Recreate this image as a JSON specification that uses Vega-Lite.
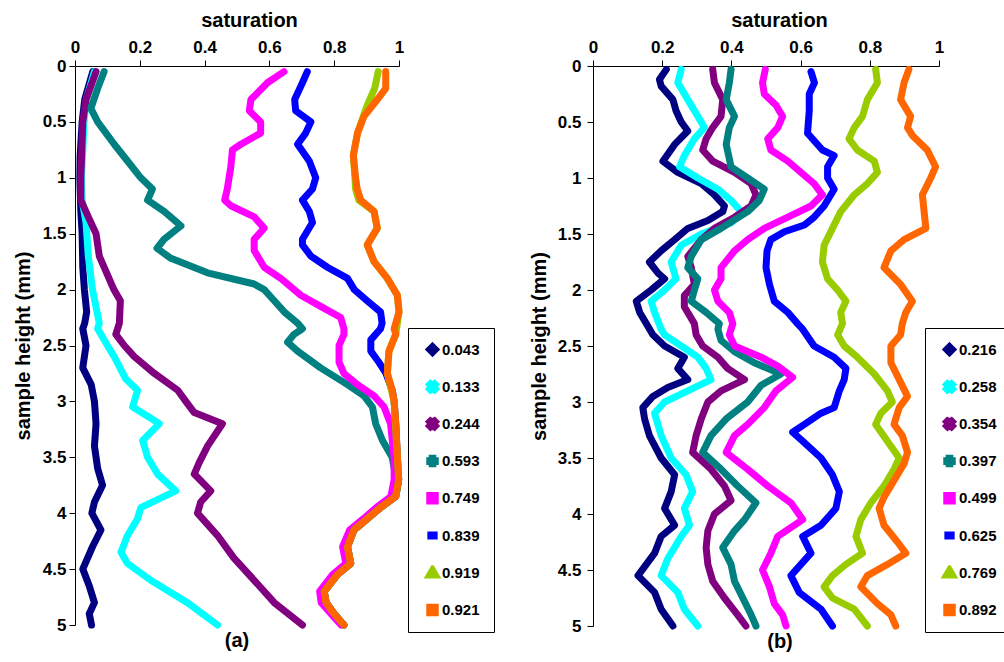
{
"$schema": "https://vega.github.io/schema/vega-lite/v6.json",
"padding": {"left": 13, "top": 10, "right": 5, "bottom": 5},
"config": {
 "font": "Liberation Sans",
 "view": {"stroke": null},
 "axis": {"labelFont": "Liberation Sans", "labelFontWeight": "bold", "labelFontSize": 17, "labelColor": "black", "titleFont": "Liberation Sans", "titleFontWeight": "bold", "titleFontSize": 20, "titleColor": "black", "domainColor": "black", "tickColor": "black", "tickSize": 6, "grid": false, "labelFlush": false, "labelOverlap": false},
 "legend": {"orient": "none", "title": null, "strokeColor": "black", "fillColor": "white", "padding": 14, "rowPadding": 21.2, "labelFont": "Liberation Sans", "labelFontSize": 15, "labelFontWeight": "bold", "labelColor": "black", "symbolSize": 30, "labelOffset": 2, "symbolOffset": 3, "symbolStrokeWidth": 0, "symbolStrokeColor": "transparent"},
 "title": {"font": "Liberation Sans", "fontSize": 20, "fontWeight": "bold", "color": "black"}
},
"datasets": {
"a": [
{"s":"0.043","h":0.05,"sat":0.055},{"s":"0.043","h":0.3,"sat":0.03},{"s":"0.043","h":0.5,"sat":0.022},{"s":"0.043","h":0.8,"sat":0.016},{"s":"0.043","h":1.0,"sat":0.015},{"s":"0.043","h":1.3,"sat":0.018},{"s":"0.043","h":1.5,"sat":0.022},{"s":"0.043","h":1.8,"sat":0.024},{"s":"0.043","h":2.0,"sat":0.029},{"s":"0.043","h":2.2,"sat":0.036},{"s":"0.043","h":2.3,"sat":0.03},{"s":"0.043","h":2.35,"sat":0.024},{"s":"0.043","h":2.5,"sat":0.034},{"s":"0.043","h":2.7,"sat":0.024},{"s":"0.043","h":2.85,"sat":0.05},{"s":"0.043","h":3.0,"sat":0.06},{"s":"0.043","h":3.2,"sat":0.065},{"s":"0.043","h":3.4,"sat":0.06},{"s":"0.043","h":3.6,"sat":0.07},{"s":"0.043","h":3.75,"sat":0.085},{"s":"0.043","h":3.9,"sat":0.06},{"s":"0.043","h":4.0,"sat":0.052},{"s":"0.043","h":4.15,"sat":0.08},{"s":"0.043","h":4.3,"sat":0.054},{"s":"0.043","h":4.5,"sat":0.024},{"s":"0.043","h":4.65,"sat":0.044},{"s":"0.043","h":4.8,"sat":0.06},{"s":"0.043","h":4.9,"sat":0.044},{"s":"0.043","h":5.0,"sat":0.051},
{"s":"0.133","h":0.05,"sat":0.06},{"s":"0.133","h":0.3,"sat":0.035},{"s":"0.133","h":0.5,"sat":0.028},{"s":"0.133","h":1.0,"sat":0.02},{"s":"0.133","h":1.2,"sat":0.022},{"s":"0.133","h":1.4,"sat":0.034},{"s":"0.133","h":1.7,"sat":0.041},{"s":"0.133","h":2.0,"sat":0.054},{"s":"0.133","h":2.3,"sat":0.075},{"s":"0.133","h":2.35,"sat":0.07},{"s":"0.133","h":2.5,"sat":0.1},{"s":"0.133","h":2.6,"sat":0.121},{"s":"0.133","h":2.8,"sat":0.157},{"s":"0.133","h":2.9,"sat":0.193},{"s":"0.133","h":3.05,"sat":0.178},{"s":"0.133","h":3.15,"sat":0.234},{"s":"0.133","h":3.2,"sat":0.26},{"s":"0.133","h":3.35,"sat":0.209},{"s":"0.133","h":3.5,"sat":0.224},{"s":"0.133","h":3.65,"sat":0.255},{"s":"0.133","h":3.8,"sat":0.311},{"s":"0.133","h":3.95,"sat":0.203},{"s":"0.133","h":4.05,"sat":0.193},{"s":"0.133","h":4.2,"sat":0.162},{"s":"0.133","h":4.35,"sat":0.142},{"s":"0.133","h":4.45,"sat":0.162},{"s":"0.133","h":4.6,"sat":0.234},{"s":"0.133","h":4.8,"sat":0.347},{"s":"0.133","h":5.0,"sat":0.44},
{"s":"0.244","h":0.05,"sat":0.065},{"s":"0.244","h":0.3,"sat":0.034},{"s":"0.244","h":0.5,"sat":0.024},{"s":"0.244","h":1.0,"sat":0.018},{"s":"0.244","h":1.2,"sat":0.018},{"s":"0.244","h":1.35,"sat":0.041},{"s":"0.244","h":1.5,"sat":0.065},{"s":"0.244","h":1.7,"sat":0.075},{"s":"0.244","h":2.0,"sat":0.12},{"s":"0.244","h":2.1,"sat":0.14},{"s":"0.244","h":2.3,"sat":0.137},{"s":"0.244","h":2.4,"sat":0.126},{"s":"0.244","h":2.5,"sat":0.152},{"s":"0.244","h":2.6,"sat":0.183},{"s":"0.244","h":2.75,"sat":0.245},{"s":"0.244","h":2.9,"sat":0.317},{"s":"0.244","h":3.0,"sat":0.342},{"s":"0.244","h":3.1,"sat":0.368},{"s":"0.244","h":3.2,"sat":0.455},{"s":"0.244","h":3.4,"sat":0.409},{"s":"0.244","h":3.55,"sat":0.383},{"s":"0.244","h":3.65,"sat":0.368},{"s":"0.244","h":3.8,"sat":0.419},{"s":"0.244","h":3.9,"sat":0.388},{"s":"0.244","h":4.0,"sat":0.378},{"s":"0.244","h":4.2,"sat":0.44},{"s":"0.244","h":4.4,"sat":0.49},{"s":"0.244","h":4.6,"sat":0.553},{"s":"0.244","h":4.8,"sat":0.615},{"s":"0.244","h":5.0,"sat":0.702},
{"s":"0.593","h":0.05,"sat":0.09},{"s":"0.593","h":0.2,"sat":0.07},{"s":"0.593","h":0.38,"sat":0.049},{"s":"0.593","h":0.5,"sat":0.07},{"s":"0.593","h":0.7,"sat":0.121},{"s":"0.593","h":0.85,"sat":0.162},{"s":"0.593","h":1.0,"sat":0.203},{"s":"0.593","h":1.1,"sat":0.239},{"s":"0.593","h":1.2,"sat":0.224},{"s":"0.593","h":1.3,"sat":0.275},{"s":"0.593","h":1.43,"sat":0.327},{"s":"0.593","h":1.55,"sat":0.275},{"s":"0.593","h":1.63,"sat":0.253},{"s":"0.593","h":1.72,"sat":0.296},{"s":"0.593","h":1.85,"sat":0.409},{"s":"0.593","h":1.95,"sat":0.553},{"s":"0.593","h":2.0,"sat":0.584},{"s":"0.593","h":2.1,"sat":0.615},{"s":"0.593","h":2.2,"sat":0.646},{"s":"0.593","h":2.3,"sat":0.687},{"s":"0.593","h":2.35,"sat":0.702},{"s":"0.593","h":2.4,"sat":0.676},{"s":"0.593","h":2.47,"sat":0.656},{"s":"0.593","h":2.55,"sat":0.687},{"s":"0.593","h":2.7,"sat":0.758},{"s":"0.593","h":2.85,"sat":0.841},{"s":"0.593","h":2.95,"sat":0.892},{"s":"0.593","h":3.05,"sat":0.918},{"s":"0.593","h":3.2,"sat":0.928},{"s":"0.593","h":3.35,"sat":0.949},{"s":"0.593","h":3.5,"sat":0.979},{"s":"0.593","h":3.6,"sat":0.985},{"s":"0.593","h":3.7,"sat":0.999},{"s":"0.593","h":3.85,"sat":0.99},{"s":"0.593","h":3.95,"sat":0.943},{"s":"0.593","h":4.05,"sat":0.902},{"s":"0.593","h":4.15,"sat":0.861},{"s":"0.593","h":4.3,"sat":0.841},{"s":"0.593","h":4.45,"sat":0.851},{"s":"0.593","h":4.55,"sat":0.81},{"s":"0.593","h":4.7,"sat":0.769},{"s":"0.593","h":4.8,"sat":0.775},{"s":"0.593","h":4.9,"sat":0.8},{"s":"0.593","h":5.0,"sat":0.83},
{"s":"0.749","h":0.05,"sat":0.645},{"s":"0.749","h":0.15,"sat":0.594},{"s":"0.749","h":0.3,"sat":0.543},{"s":"0.749","h":0.4,"sat":0.538},{"s":"0.749","h":0.5,"sat":0.573},{"s":"0.749","h":0.6,"sat":0.573},{"s":"0.749","h":0.7,"sat":0.512},{"s":"0.749","h":0.75,"sat":0.486},{"s":"0.749","h":0.9,"sat":0.481},{"s":"0.749","h":1.1,"sat":0.47},{"s":"0.749","h":1.2,"sat":0.462},{"s":"0.749","h":1.25,"sat":0.481},{"s":"0.749","h":1.35,"sat":0.553},{"s":"0.749","h":1.45,"sat":0.584},{"s":"0.749","h":1.55,"sat":0.553},{"s":"0.749","h":1.65,"sat":0.553},{"s":"0.749","h":1.8,"sat":0.584},{"s":"0.749","h":1.9,"sat":0.635},{"s":"0.749","h":2.05,"sat":0.697},{"s":"0.749","h":2.15,"sat":0.758},{"s":"0.749","h":2.25,"sat":0.82},{"s":"0.749","h":2.35,"sat":0.83},{"s":"0.749","h":2.4,"sat":0.83},{"s":"0.749","h":2.5,"sat":0.815},{"s":"0.749","h":2.65,"sat":0.815},{"s":"0.749","h":2.75,"sat":0.83},{"s":"0.749","h":2.85,"sat":0.872},{"s":"0.749","h":2.95,"sat":0.923},{"s":"0.749","h":3.05,"sat":0.954},{"s":"0.749","h":3.2,"sat":0.974},{"s":"0.749","h":3.5,"sat":0.985},{"s":"0.749","h":3.7,"sat":0.985},{"s":"0.749","h":3.85,"sat":0.975},{"s":"0.749","h":3.95,"sat":0.93},{"s":"0.749","h":4.05,"sat":0.89},{"s":"0.749","h":4.15,"sat":0.848},{"s":"0.749","h":4.3,"sat":0.826},{"s":"0.749","h":4.45,"sat":0.836},{"s":"0.749","h":4.55,"sat":0.795},{"s":"0.749","h":4.7,"sat":0.755},{"s":"0.749","h":4.8,"sat":0.76},{"s":"0.749","h":4.9,"sat":0.79},{"s":"0.749","h":5.0,"sat":0.822},
{"s":"0.839","h":0.05,"sat":0.717},{"s":"0.839","h":0.15,"sat":0.702},{"s":"0.839","h":0.3,"sat":0.678},{"s":"0.839","h":0.4,"sat":0.681},{"s":"0.839","h":0.5,"sat":0.728},{"s":"0.839","h":0.6,"sat":0.712},{"s":"0.839","h":0.7,"sat":0.687},{"s":"0.839","h":0.85,"sat":0.723},{"s":"0.839","h":1.0,"sat":0.743},{"s":"0.839","h":1.1,"sat":0.733},{"s":"0.839","h":1.2,"sat":0.702},{"s":"0.839","h":1.3,"sat":0.723},{"s":"0.839","h":1.4,"sat":0.733},{"s":"0.839","h":1.55,"sat":0.702},{"s":"0.839","h":1.6,"sat":0.702},{"s":"0.839","h":1.7,"sat":0.728},{"s":"0.839","h":1.8,"sat":0.779},{"s":"0.839","h":1.9,"sat":0.841},{"s":"0.839","h":2.0,"sat":0.862},{"s":"0.839","h":2.1,"sat":0.902},{"s":"0.839","h":2.2,"sat":0.943},{"s":"0.839","h":2.3,"sat":0.948},{"s":"0.839","h":2.35,"sat":0.943},{"s":"0.839","h":2.45,"sat":0.913},{"s":"0.839","h":2.55,"sat":0.913},{"s":"0.839","h":2.65,"sat":0.938},{"s":"0.839","h":2.75,"sat":0.96},{"s":"0.839","h":2.9,"sat":0.979},{"s":"0.839","h":3.0,"sat":0.985},{"s":"0.839","h":3.2,"sat":0.99},{"s":"0.839","h":3.5,"sat":0.995},{"s":"0.839","h":3.7,"sat":0.999},{"s":"0.839","h":3.85,"sat":0.99},{"s":"0.839","h":3.95,"sat":0.943},{"s":"0.839","h":4.05,"sat":0.902},{"s":"0.839","h":4.15,"sat":0.861},{"s":"0.839","h":4.3,"sat":0.841},{"s":"0.839","h":4.45,"sat":0.851},{"s":"0.839","h":4.55,"sat":0.81},{"s":"0.839","h":4.7,"sat":0.769},{"s":"0.839","h":4.8,"sat":0.775},{"s":"0.839","h":4.9,"sat":0.8},{"s":"0.839","h":5.0,"sat":0.83},
{"s":"0.919","h":0.05,"sat":0.936},{"s":"0.919","h":0.2,"sat":0.925},{"s":"0.919","h":0.35,"sat":0.902},{"s":"0.919","h":0.45,"sat":0.89},{"s":"0.919","h":0.6,"sat":0.872},{"s":"0.919","h":0.8,"sat":0.859},{"s":"0.919","h":1.0,"sat":0.864},{"s":"0.919","h":1.1,"sat":0.866},{"s":"0.919","h":1.2,"sat":0.876},{"s":"0.919","h":1.3,"sat":0.923},{"s":"0.919","h":1.45,"sat":0.933},{"s":"0.919","h":1.6,"sat":0.902},{"s":"0.919","h":1.75,"sat":0.923},{"s":"0.919","h":1.9,"sat":0.964},{"s":"0.919","h":2.05,"sat":0.995},{"s":"0.919","h":2.2,"sat":1.0},{"s":"0.919","h":2.4,"sat":0.99},{"s":"0.919","h":2.55,"sat":0.969},{"s":"0.919","h":2.75,"sat":0.964},{"s":"0.919","h":3.0,"sat":0.985},{"s":"0.919","h":3.5,"sat":0.995},{"s":"0.919","h":3.7,"sat":0.999},{"s":"0.919","h":3.85,"sat":0.99},{"s":"0.919","h":3.95,"sat":0.943},{"s":"0.919","h":4.05,"sat":0.902},{"s":"0.919","h":4.15,"sat":0.861},{"s":"0.919","h":4.3,"sat":0.841},{"s":"0.919","h":4.45,"sat":0.851},{"s":"0.919","h":4.55,"sat":0.81},{"s":"0.919","h":4.7,"sat":0.769},{"s":"0.919","h":4.8,"sat":0.775},{"s":"0.919","h":4.9,"sat":0.8},{"s":"0.919","h":5.0,"sat":0.83},
{"s":"0.921","h":0.05,"sat":0.959},{"s":"0.921","h":0.2,"sat":0.959},{"s":"0.921","h":0.3,"sat":0.933},{"s":"0.921","h":0.45,"sat":0.892},{"s":"0.921","h":0.6,"sat":0.872},{"s":"0.921","h":0.8,"sat":0.859},{"s":"0.921","h":1.0,"sat":0.866},{"s":"0.921","h":1.1,"sat":0.871},{"s":"0.921","h":1.2,"sat":0.882},{"s":"0.921","h":1.3,"sat":0.923},{"s":"0.921","h":1.45,"sat":0.933},{"s":"0.921","h":1.6,"sat":0.902},{"s":"0.921","h":1.75,"sat":0.923},{"s":"0.921","h":1.9,"sat":0.964},{"s":"0.921","h":2.05,"sat":0.995},{"s":"0.921","h":2.2,"sat":1.0},{"s":"0.921","h":2.35,"sat":0.985},{"s":"0.921","h":2.4,"sat":0.99},{"s":"0.921","h":2.55,"sat":0.969},{"s":"0.921","h":2.75,"sat":0.964},{"s":"0.921","h":2.9,"sat":0.979},{"s":"0.921","h":3.0,"sat":0.985},{"s":"0.921","h":3.2,"sat":0.99},{"s":"0.921","h":3.5,"sat":0.995},{"s":"0.921","h":3.7,"sat":0.999},{"s":"0.921","h":3.85,"sat":0.99},{"s":"0.921","h":3.95,"sat":0.943},{"s":"0.921","h":4.05,"sat":0.902},{"s":"0.921","h":4.15,"sat":0.861},{"s":"0.921","h":4.3,"sat":0.841},{"s":"0.921","h":4.45,"sat":0.851},{"s":"0.921","h":4.55,"sat":0.81},{"s":"0.921","h":4.7,"sat":0.769},{"s":"0.921","h":4.8,"sat":0.775},{"s":"0.921","h":4.9,"sat":0.8},{"s":"0.921","h":5.0,"sat":0.83}
],
"b": [
{"s":"0.216","h":0.03,"sat":0.212},{"s":"0.216","h":0.12,"sat":0.192},{"s":"0.216","h":0.18,"sat":0.197},{"s":"0.216","h":0.3,"sat":0.231},{"s":"0.216","h":0.4,"sat":0.24},{"s":"0.216","h":0.5,"sat":0.255},{"s":"0.216","h":0.58,"sat":0.274},{"s":"0.216","h":0.7,"sat":0.236},{"s":"0.216","h":0.85,"sat":0.202},{"s":"0.216","h":0.95,"sat":0.245},{"s":"0.216","h":1.05,"sat":0.313},{"s":"0.216","h":1.15,"sat":0.351},{"s":"0.216","h":1.25,"sat":0.38},{"s":"0.216","h":1.3,"sat":0.375},{"s":"0.216","h":1.38,"sat":0.332},{"s":"0.216","h":1.45,"sat":0.274},{"s":"0.216","h":1.55,"sat":0.236},{"s":"0.216","h":1.65,"sat":0.197},{"s":"0.216","h":1.75,"sat":0.163},{"s":"0.216","h":1.85,"sat":0.188},{"s":"0.216","h":1.9,"sat":0.207},{"s":"0.216","h":2.0,"sat":0.168},{"s":"0.216","h":2.1,"sat":0.125},{"s":"0.216","h":2.2,"sat":0.135},{"s":"0.216","h":2.3,"sat":0.154},{"s":"0.216","h":2.4,"sat":0.173},{"s":"0.216","h":2.5,"sat":0.207},{"s":"0.216","h":2.6,"sat":0.264},{"s":"0.216","h":2.7,"sat":0.245},{"s":"0.216","h":2.8,"sat":0.274},{"s":"0.216","h":2.87,"sat":0.216},{"s":"0.216","h":2.95,"sat":0.173},{"s":"0.216","h":3.05,"sat":0.144},{"s":"0.216","h":3.15,"sat":0.149},{"s":"0.216","h":3.3,"sat":0.163},{"s":"0.216","h":3.5,"sat":0.197},{"s":"0.216","h":3.65,"sat":0.236},{"s":"0.216","h":3.8,"sat":0.226},{"s":"0.216","h":3.95,"sat":0.207},{"s":"0.216","h":4.1,"sat":0.236},{"s":"0.216","h":4.2,"sat":0.197},{"s":"0.216","h":4.35,"sat":0.178},{"s":"0.216","h":4.45,"sat":0.154},{"s":"0.216","h":4.55,"sat":0.13},{"s":"0.216","h":4.7,"sat":0.178},{"s":"0.216","h":4.85,"sat":0.197},{"s":"0.216","h":5.0,"sat":0.231},
{"s":"0.258","h":0.03,"sat":0.255},{"s":"0.258","h":0.15,"sat":0.245},{"s":"0.258","h":0.3,"sat":0.274},{"s":"0.258","h":0.45,"sat":0.303},{"s":"0.258","h":0.55,"sat":0.322},{"s":"0.258","h":0.65,"sat":0.293},{"s":"0.258","h":0.8,"sat":0.264},{"s":"0.258","h":0.9,"sat":0.25},{"s":"0.258","h":1.0,"sat":0.303},{"s":"0.258","h":1.1,"sat":0.361},{"s":"0.258","h":1.2,"sat":0.399},{"s":"0.258","h":1.3,"sat":0.428},{"s":"0.258","h":1.4,"sat":0.399},{"s":"0.258","h":1.5,"sat":0.313},{"s":"0.258","h":1.6,"sat":0.255},{"s":"0.258","h":1.75,"sat":0.226},{"s":"0.258","h":1.9,"sat":0.24},{"s":"0.258","h":2.0,"sat":0.207},{"s":"0.258","h":2.1,"sat":0.168},{"s":"0.258","h":2.2,"sat":0.178},{"s":"0.258","h":2.35,"sat":0.197},{"s":"0.258","h":2.4,"sat":0.207},{"s":"0.258","h":2.5,"sat":0.255},{"s":"0.258","h":2.6,"sat":0.303},{"s":"0.258","h":2.7,"sat":0.327},{"s":"0.258","h":2.8,"sat":0.341},{"s":"0.258","h":2.9,"sat":0.274},{"s":"0.258","h":3.0,"sat":0.207},{"s":"0.258","h":3.1,"sat":0.178},{"s":"0.258","h":3.3,"sat":0.197},{"s":"0.258","h":3.5,"sat":0.226},{"s":"0.258","h":3.65,"sat":0.269},{"s":"0.258","h":3.8,"sat":0.288},{"s":"0.258","h":3.95,"sat":0.264},{"s":"0.258","h":4.1,"sat":0.279},{"s":"0.258","h":4.2,"sat":0.255},{"s":"0.258","h":4.4,"sat":0.216},{"s":"0.258","h":4.55,"sat":0.197},{"s":"0.258","h":4.7,"sat":0.245},{"s":"0.258","h":4.85,"sat":0.264},{"s":"0.258","h":5.0,"sat":0.303},
{"s":"0.354","h":0.03,"sat":0.346},{"s":"0.354","h":0.15,"sat":0.351},{"s":"0.354","h":0.3,"sat":0.375},{"s":"0.354","h":0.45,"sat":0.37},{"s":"0.354","h":0.55,"sat":0.346},{"s":"0.354","h":0.65,"sat":0.327},{"s":"0.354","h":0.75,"sat":0.317},{"s":"0.354","h":0.85,"sat":0.346},{"s":"0.354","h":0.95,"sat":0.409},{"s":"0.354","h":1.05,"sat":0.457},{"s":"0.354","h":1.15,"sat":0.471},{"s":"0.354","h":1.25,"sat":0.457},{"s":"0.354","h":1.35,"sat":0.409},{"s":"0.354","h":1.45,"sat":0.351},{"s":"0.354","h":1.55,"sat":0.313},{"s":"0.354","h":1.7,"sat":0.274},{"s":"0.354","h":1.8,"sat":0.284},{"s":"0.354","h":1.95,"sat":0.293},{"s":"0.354","h":2.05,"sat":0.264},{"s":"0.354","h":2.15,"sat":0.264},{"s":"0.354","h":2.3,"sat":0.293},{"s":"0.354","h":2.4,"sat":0.298},{"s":"0.354","h":2.5,"sat":0.317},{"s":"0.354","h":2.6,"sat":0.361},{"s":"0.354","h":2.7,"sat":0.389},{"s":"0.354","h":2.8,"sat":0.438},{"s":"0.354","h":2.9,"sat":0.37},{"s":"0.354","h":3.0,"sat":0.332},{"s":"0.354","h":3.15,"sat":0.313},{"s":"0.354","h":3.3,"sat":0.298},{"s":"0.354","h":3.45,"sat":0.288},{"s":"0.354","h":3.6,"sat":0.341},{"s":"0.354","h":3.75,"sat":0.38},{"s":"0.354","h":3.88,"sat":0.399},{"s":"0.354","h":4.0,"sat":0.351},{"s":"0.354","h":4.15,"sat":0.332},{"s":"0.354","h":4.3,"sat":0.327},{"s":"0.354","h":4.45,"sat":0.332},{"s":"0.354","h":4.6,"sat":0.346},{"s":"0.354","h":4.75,"sat":0.38},{"s":"0.354","h":4.9,"sat":0.418},{"s":"0.354","h":5.0,"sat":0.442},
{"s":"0.397","h":0.03,"sat":0.399},{"s":"0.397","h":0.15,"sat":0.394},{"s":"0.397","h":0.3,"sat":0.385},{"s":"0.397","h":0.45,"sat":0.409},{"s":"0.397","h":0.55,"sat":0.394},{"s":"0.397","h":0.7,"sat":0.385},{"s":"0.397","h":0.9,"sat":0.399},{"s":"0.397","h":1.0,"sat":0.447},{"s":"0.397","h":1.1,"sat":0.495},{"s":"0.397","h":1.2,"sat":0.481},{"s":"0.397","h":1.3,"sat":0.447},{"s":"0.397","h":1.45,"sat":0.37},{"s":"0.397","h":1.55,"sat":0.313},{"s":"0.397","h":1.7,"sat":0.284},{"s":"0.397","h":1.8,"sat":0.274},{"s":"0.397","h":1.9,"sat":0.303},{"s":"0.397","h":2.0,"sat":0.293},{"s":"0.397","h":2.1,"sat":0.284},{"s":"0.397","h":2.2,"sat":0.327},{"s":"0.397","h":2.3,"sat":0.365},{"s":"0.397","h":2.35,"sat":0.361},{"s":"0.397","h":2.45,"sat":0.37},{"s":"0.397","h":2.55,"sat":0.409},{"s":"0.397","h":2.65,"sat":0.466},{"s":"0.397","h":2.75,"sat":0.543},{"s":"0.397","h":2.85,"sat":0.486},{"s":"0.397","h":3.0,"sat":0.447},{"s":"0.397","h":3.15,"sat":0.385},{"s":"0.397","h":3.3,"sat":0.341},{"s":"0.397","h":3.45,"sat":0.317},{"s":"0.397","h":3.6,"sat":0.37},{"s":"0.397","h":3.75,"sat":0.418},{"s":"0.397","h":3.9,"sat":0.471},{"s":"0.397","h":4.05,"sat":0.438},{"s":"0.397","h":4.15,"sat":0.409},{"s":"0.397","h":4.3,"sat":0.375},{"s":"0.397","h":4.45,"sat":0.399},{"s":"0.397","h":4.6,"sat":0.409},{"s":"0.397","h":4.75,"sat":0.433},{"s":"0.397","h":4.9,"sat":0.457},{"s":"0.397","h":5.0,"sat":0.471},
{"s":"0.499","h":0.03,"sat":0.498},{"s":"0.499","h":0.15,"sat":0.49},{"s":"0.499","h":0.25,"sat":0.495},{"s":"0.499","h":0.35,"sat":0.529},{"s":"0.499","h":0.45,"sat":0.548},{"s":"0.499","h":0.55,"sat":0.534},{"s":"0.499","h":0.65,"sat":0.505},{"s":"0.499","h":0.75,"sat":0.514},{"s":"0.499","h":0.85,"sat":0.563},{"s":"0.499","h":0.95,"sat":0.601},{"s":"0.499","h":1.05,"sat":0.639},{"s":"0.499","h":1.15,"sat":0.663},{"s":"0.499","h":1.25,"sat":0.63},{"s":"0.499","h":1.35,"sat":0.563},{"s":"0.499","h":1.45,"sat":0.495},{"s":"0.499","h":1.55,"sat":0.447},{"s":"0.499","h":1.65,"sat":0.409},{"s":"0.499","h":1.8,"sat":0.37},{"s":"0.499","h":1.9,"sat":0.37},{"s":"0.499","h":2.0,"sat":0.351},{"s":"0.499","h":2.1,"sat":0.361},{"s":"0.499","h":2.2,"sat":0.394},{"s":"0.499","h":2.3,"sat":0.404},{"s":"0.499","h":2.4,"sat":0.394},{"s":"0.499","h":2.5,"sat":0.409},{"s":"0.499","h":2.6,"sat":0.486},{"s":"0.499","h":2.68,"sat":0.534},{"s":"0.499","h":2.78,"sat":0.577},{"s":"0.499","h":2.9,"sat":0.529},{"s":"0.499","h":3.05,"sat":0.495},{"s":"0.499","h":3.2,"sat":0.447},{"s":"0.499","h":3.3,"sat":0.409},{"s":"0.499","h":3.45,"sat":0.385},{"s":"0.499","h":3.6,"sat":0.447},{"s":"0.499","h":3.75,"sat":0.505},{"s":"0.499","h":3.9,"sat":0.572},{"s":"0.499","h":4.05,"sat":0.606},{"s":"0.499","h":4.2,"sat":0.534},{"s":"0.499","h":4.35,"sat":0.514},{"s":"0.499","h":4.5,"sat":0.49},{"s":"0.499","h":4.65,"sat":0.51},{"s":"0.499","h":4.8,"sat":0.524},{"s":"0.499","h":4.9,"sat":0.548},{"s":"0.499","h":5.0,"sat":0.558},
{"s":"0.625","h":0.05,"sat":0.63},{"s":"0.625","h":0.15,"sat":0.64},{"s":"0.625","h":0.25,"sat":0.625},{"s":"0.625","h":0.4,"sat":0.625},{"s":"0.625","h":0.6,"sat":0.62},{"s":"0.625","h":0.75,"sat":0.663},{"s":"0.625","h":0.8,"sat":0.697},{"s":"0.625","h":0.9,"sat":0.678},{"s":"0.625","h":1.0,"sat":0.678},{"s":"0.625","h":1.1,"sat":0.697},{"s":"0.625","h":1.25,"sat":0.668},{"s":"0.625","h":1.35,"sat":0.639},{"s":"0.625","h":1.42,"sat":0.611},{"s":"0.625","h":1.48,"sat":0.553},{"s":"0.625","h":1.55,"sat":0.514},{"s":"0.625","h":1.65,"sat":0.503},{"s":"0.625","h":1.8,"sat":0.5},{"s":"0.625","h":1.95,"sat":0.51},{"s":"0.625","h":2.1,"sat":0.524},{"s":"0.625","h":2.2,"sat":0.563},{"s":"0.625","h":2.3,"sat":0.591},{"s":"0.625","h":2.35,"sat":0.606},{"s":"0.625","h":2.5,"sat":0.639},{"s":"0.625","h":2.6,"sat":0.697},{"s":"0.625","h":2.7,"sat":0.731},{"s":"0.625","h":2.8,"sat":0.726},{"s":"0.625","h":2.9,"sat":0.712},{"s":"0.625","h":3.05,"sat":0.697},{"s":"0.625","h":3.1,"sat":0.659},{"s":"0.625","h":3.2,"sat":0.611},{"s":"0.625","h":3.27,"sat":0.577},{"s":"0.625","h":3.35,"sat":0.606},{"s":"0.625","h":3.5,"sat":0.659},{"s":"0.625","h":3.65,"sat":0.692},{"s":"0.625","h":3.8,"sat":0.712},{"s":"0.625","h":3.95,"sat":0.702},{"s":"0.625","h":4.1,"sat":0.659},{"s":"0.625","h":4.2,"sat":0.606},{"s":"0.625","h":4.35,"sat":0.63},{"s":"0.625","h":4.45,"sat":0.601},{"s":"0.625","h":4.55,"sat":0.572},{"s":"0.625","h":4.7,"sat":0.596},{"s":"0.625","h":4.85,"sat":0.659},{"s":"0.625","h":5.0,"sat":0.692},
{"s":"0.769","h":0.03,"sat":0.817},{"s":"0.769","h":0.15,"sat":0.822},{"s":"0.769","h":0.3,"sat":0.793},{"s":"0.769","h":0.45,"sat":0.779},{"s":"0.769","h":0.55,"sat":0.755},{"s":"0.769","h":0.65,"sat":0.74},{"s":"0.769","h":0.75,"sat":0.764},{"s":"0.769","h":0.85,"sat":0.813},{"s":"0.769","h":0.95,"sat":0.822},{"s":"0.769","h":1.05,"sat":0.793},{"s":"0.769","h":1.15,"sat":0.755},{"s":"0.769","h":1.3,"sat":0.716},{"s":"0.769","h":1.45,"sat":0.692},{"s":"0.769","h":1.6,"sat":0.668},{"s":"0.769","h":1.75,"sat":0.663},{"s":"0.769","h":1.9,"sat":0.678},{"s":"0.769","h":2.0,"sat":0.707},{"s":"0.769","h":2.1,"sat":0.731},{"s":"0.769","h":2.2,"sat":0.716},{"s":"0.769","h":2.3,"sat":0.721},{"s":"0.769","h":2.4,"sat":0.707},{"s":"0.769","h":2.5,"sat":0.726},{"s":"0.769","h":2.6,"sat":0.764},{"s":"0.769","h":2.75,"sat":0.813},{"s":"0.769","h":2.9,"sat":0.851},{"s":"0.769","h":3.0,"sat":0.865},{"s":"0.769","h":3.1,"sat":0.832},{"s":"0.769","h":3.2,"sat":0.817},{"s":"0.769","h":3.35,"sat":0.851},{"s":"0.769","h":3.5,"sat":0.885},{"s":"0.769","h":3.6,"sat":0.87},{"s":"0.769","h":3.75,"sat":0.841},{"s":"0.769","h":3.9,"sat":0.803},{"s":"0.769","h":4.05,"sat":0.774},{"s":"0.769","h":4.2,"sat":0.76},{"s":"0.769","h":4.35,"sat":0.779},{"s":"0.769","h":4.45,"sat":0.731},{"s":"0.769","h":4.55,"sat":0.692},{"s":"0.769","h":4.65,"sat":0.668},{"s":"0.769","h":4.75,"sat":0.692},{"s":"0.769","h":4.85,"sat":0.755},{"s":"0.769","h":5.0,"sat":0.793},
{"s":"0.892","h":0.03,"sat":0.913},{"s":"0.892","h":0.15,"sat":0.899},{"s":"0.892","h":0.3,"sat":0.889},{"s":"0.892","h":0.45,"sat":0.918},{"s":"0.892","h":0.55,"sat":0.909},{"s":"0.892","h":0.62,"sat":0.923},{"s":"0.892","h":0.75,"sat":0.966},{"s":"0.892","h":0.9,"sat":0.99},{"s":"0.892","h":1.0,"sat":0.976},{"s":"0.892","h":1.15,"sat":0.952},{"s":"0.892","h":1.3,"sat":0.957},{"s":"0.892","h":1.45,"sat":0.962},{"s":"0.892","h":1.55,"sat":0.899},{"s":"0.892","h":1.65,"sat":0.861},{"s":"0.892","h":1.8,"sat":0.841},{"s":"0.892","h":1.95,"sat":0.889},{"s":"0.892","h":2.1,"sat":0.923},{"s":"0.892","h":2.2,"sat":0.904},{"s":"0.892","h":2.3,"sat":0.894},{"s":"0.892","h":2.4,"sat":0.889},{"s":"0.892","h":2.5,"sat":0.861},{"s":"0.892","h":2.65,"sat":0.861},{"s":"0.892","h":2.8,"sat":0.885},{"s":"0.892","h":2.95,"sat":0.909},{"s":"0.892","h":3.05,"sat":0.885},{"s":"0.892","h":3.2,"sat":0.87},{"s":"0.892","h":3.3,"sat":0.894},{"s":"0.892","h":3.45,"sat":0.909},{"s":"0.892","h":3.55,"sat":0.899},{"s":"0.892","h":3.7,"sat":0.87},{"s":"0.892","h":3.85,"sat":0.841},{"s":"0.892","h":3.95,"sat":0.827},{"s":"0.892","h":4.1,"sat":0.841},{"s":"0.892","h":4.25,"sat":0.88},{"s":"0.892","h":4.35,"sat":0.904},{"s":"0.892","h":4.45,"sat":0.851},{"s":"0.892","h":4.55,"sat":0.793},{"s":"0.892","h":4.65,"sat":0.774},{"s":"0.892","h":4.8,"sat":0.822},{"s":"0.892","h":4.9,"sat":0.861},{"s":"0.892","h":5.0,"sat":0.875}
]
},
"bounds": "flush",
"spacing": 194,
"resolve": {"scale": {"color": "independent", "shape": "independent", "stroke": "independent", "strokeWidth": "independent"}},
"hconcat": [
{
 "width": 324, "height": 559,
 "data": {"name": "a"},
 "title": {"text": "(a)", "orient": "bottom", "frame": "group", "anchor": "middle", "offset": -2, "dx": 0},
 "encoding": {
  "x": {"field": "sat", "type": "quantitative", "scale": {"domain": [0, 1], "nice": false}, "axis": {"orient": "top", "title": "saturation", "values": [0, 0.2, 0.4, 0.6, 0.8, 1], "format": "~g", "labelPadding": 4, "titlePadding": 8, "titleX": 174}},
  "y": {"field": "h", "type": "quantitative", "scale": {"domain": [0, 5], "reverse": true, "nice": false}, "axis": {"title": "sample height (mm)", "values": [0, 0.5, 1, 1.5, 2, 2.5, 3, 3.5, 4, 4.5, 5], "format": "~g", "labelPadding": 3, "titlePadding": 9}}
 },
 "layer": [
  {"mark": {"type": "point", "filled": true, "size": 4, "opacity": 1, "strokeWidth": 0, "stroke": "transparent"},
   "encoding": {
    "color": {"field": "s", "type": "nominal", "scale": {"domain": ["0.043", "0.133", "0.244", "0.593", "0.749", "0.839", "0.919", "0.921"], "range": ["#000080", "#00FFFF", "#800080", "#008080", "#FF00FF", "#0000FF", "#99CC00", "#FF6600"]}, "legend": {"orient": "none", "legendX": 333, "legendY": 262, "symbolSize": 30, "symbolStrokeWidth": 0, "symbolStrokeColor": "transparent", "clipHeight": 15, "rowPadding": 21.2, "padding": 14, "labelOffset": 2, "encode": {"symbols": {"enter": {"size": {"value": 30}, "strokeWidth": {"value": 0}, "stroke": {"value": "transparent"}}, "update": {"size": {"value": 30}, "strokeWidth": {"value": 0}, "stroke": {"value": "transparent"}}}}}},
    "shape": {"field": "s", "type": "nominal", "scale": {"domain": ["0.043", "0.133", "0.244", "0.593", "0.749", "0.839", "0.919", "0.921"], "range": ["diamond", "M-1,-0.8L-0.8,-1L0,-0.2L0.8,-1L1,-0.8L0.2,0L1,0.8L0.8,1L0,0.2L-0.8,1L-1,0.8L-0.2,0Z", "M-1,-0.8L-0.8,-1L0,-0.2L0.8,-1L1,-0.8L0.2,0L1,0.8L0.8,1L0,0.2L-0.8,1L-1,0.8L-0.2,0Z M-0.13,-1L0.13,-1L0.13,1L-0.13,1Z", "M-0.12,-1L0.12,-1L0.12,-0.12L1,-0.12L1,0.12L0.12,0.12L0.12,1L-0.12,1L-0.12,0.12L-1,0.12L-1,-0.12L-0.12,-0.12Z", "square", "M-0.6,-0.22L0.6,-0.22L0.6,0.22L-0.6,0.22Z", "M0,-0.9L1,0.8L-1,0.8Z M0,-0.45L-0.62,0.55L0.62,0.55Z", "square"]}}}},
  {"transform": [{"calculate": "datum.s", "as": "series"}],
   "mark": {"type": "line", "strokeJoin": "round", "strokeCap": "round"},
   "encoding": {
    "stroke": {"field": "series", "type": "nominal", "scale": {"domain": ["0.043", "0.133", "0.244", "0.593", "0.749", "0.839", "0.919", "0.921"], "range": ["#000080", "#00FFFF", "#800080", "#008080", "#FF00FF", "#0000FF", "#99CC00", "#FF6600"]}, "legend": null},
    "order": {"field": "h", "type": "quantitative"},
    "strokeWidth": {"field": "series", "type": "nominal", "scale": {"domain": ["0.043", "0.133", "0.244", "0.593", "0.749", "0.839", "0.919", "0.921"], "range": [7, 7, 8, 5, 11, 4, 8, 11]}, "legend": null}}}
 ]
},
{
 "width": 346, "height": 560,
 "data": {"name": "b"},
 "title": {"text": "(b)", "orient": "bottom", "frame": "group", "anchor": "middle", "offset": -2, "dx": 14},
 "encoding": {
  "x": {"field": "sat", "type": "quantitative", "scale": {"domain": [0, 1], "nice": false}, "axis": {"orient": "top", "title": "saturation", "values": [0, 0.2, 0.4, 0.6, 0.8, 1], "format": "~g", "labelPadding": 4, "titlePadding": 8, "titleX": 186}},
  "y": {"field": "h", "type": "quantitative", "scale": {"domain": [0, 5], "reverse": true, "nice": false}, "axis": {"title": "sample height (mm)", "values": [0, 0.5, 1, 1.5, 2, 2.5, 3, 3.5, 4, 4.5, 5], "format": "~g", "labelPadding": 6, "titlePadding": 8}}
 },
 "layer": [
  {"mark": {"type": "point", "filled": true, "size": 4, "opacity": 1, "strokeWidth": 0, "stroke": "transparent"},
   "encoding": {
    "color": {"field": "s", "type": "nominal", "scale": {"domain": ["0.216", "0.258", "0.354", "0.397", "0.499", "0.625", "0.769", "0.892"], "range": ["#000080", "#00FFFF", "#800080", "#008080", "#FF00FF", "#0000FF", "#99CC00", "#FF6600"]}, "legend": {"orient": "none", "legendX": 332, "legendY": 262, "symbolSize": 30, "symbolStrokeWidth": 0, "symbolStrokeColor": "transparent", "clipHeight": 15, "rowPadding": 21.2, "padding": 14, "labelOffset": 2, "encode": {"symbols": {"enter": {"size": {"value": 30}, "strokeWidth": {"value": 0}, "stroke": {"value": "transparent"}}, "update": {"size": {"value": 30}, "strokeWidth": {"value": 0}, "stroke": {"value": "transparent"}}}}}},
    "shape": {"field": "s", "type": "nominal", "scale": {"domain": ["0.216", "0.258", "0.354", "0.397", "0.499", "0.625", "0.769", "0.892"], "range": ["diamond", "M-1,-0.8L-0.8,-1L0,-0.2L0.8,-1L1,-0.8L0.2,0L1,0.8L0.8,1L0,0.2L-0.8,1L-1,0.8L-0.2,0Z", "M-1,-0.8L-0.8,-1L0,-0.2L0.8,-1L1,-0.8L0.2,0L1,0.8L0.8,1L0,0.2L-0.8,1L-1,0.8L-0.2,0Z M-0.13,-1L0.13,-1L0.13,1L-0.13,1Z", "M-0.12,-1L0.12,-1L0.12,-0.12L1,-0.12L1,0.12L0.12,0.12L0.12,1L-0.12,1L-0.12,0.12L-1,0.12L-1,-0.12L-0.12,-0.12Z", "square", "M-0.6,-0.22L0.6,-0.22L0.6,0.22L-0.6,0.22Z", "M0,-0.9L1,0.8L-1,0.8Z M0,-0.45L-0.62,0.55L0.62,0.55Z", "square"]}}}},
  {"transform": [{"calculate": "datum.s", "as": "series"}],
   "mark": {"type": "line", "strokeJoin": "round", "strokeCap": "round"},
   "encoding": {
    "stroke": {"field": "series", "type": "nominal", "scale": {"domain": ["0.216", "0.258", "0.354", "0.397", "0.499", "0.625", "0.769", "0.892"], "range": ["#000080", "#00FFFF", "#800080", "#008080", "#FF00FF", "#0000FF", "#99CC00", "#FF6600"]}, "legend": null},
    "order": {"field": "h", "type": "quantitative"},
    "strokeWidth": {"field": "series", "type": "nominal", "scale": {"domain": ["0.216", "0.258", "0.354", "0.397", "0.499", "0.625", "0.769", "0.892"], "range": [7, 7, 8, 6, 11, 4, 8, 11]}, "legend": null}}}
 ]
}
]
}
